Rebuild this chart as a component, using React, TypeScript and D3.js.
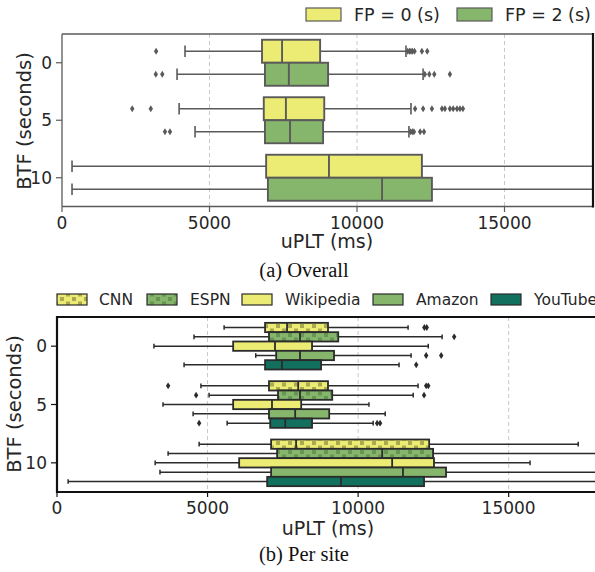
import React from "react";
import * as d3 from "d3";

// ---------- DATA ----------
const btfCategories = ["0", "5", "10"];
const xTicks = [0, 5000, 10000, 15000];

// Top chart: FP series
const fpSeries = ["FP = 0 (s)", "FP = 2 (s)"];
// [whiskerLow, q1, median, q3, whiskerHigh] per BTF category
const fp0Stats = [
  [4170, 6780, 7460, 8750, 11660],
  [3970, 6840, 7590, 8890, 11830],
  [340, 6920, 9050, 12200, 20500],
];
const fp2Stats = [
  [3900, 6880, 7690, 9020, 12240],
  [4510, 6880, 7730, 8850, 11760],
  [340, 6980, 10850, 12540, 20500],
];
const fp0Outliers = [
  [3190, 11720, 11780, 11830, 11880, 11950, 12200, 12380],
  [2380, 3010, 11970, 12240, 12540, 12880, 12980, 13150, 13260, 13390, 13490, 13590],
  [],
];
const fp2Outliers = [
  [3180, 3400, 12300, 12450, 12620, 13150],
  [3490, 3660, 11820, 11880, 11930, 12140, 12270],
  [],
];

// Bottom chart: per site
const sites = ["CNN", "ESPN", "Wikipedia", "Amazon", "YouTube"];
const cnnStats = [
  [5550, 6910, 7640, 9000, 11660],
  [4780, 7040, 8010, 9000, 11990],
  [4720, 7110, 7940, 12360, 17310],
];
const espnStats = [
  [4550, 7040, 8070, 9340, 12790],
  [5050, 7340, 8070, 9140, 11830],
  [3690, 7310, 10800, 12490, 20500],
];
const wikiStats = [
  [3220, 5850, 7240, 8470, 12330],
  [3520, 5850, 7140, 8110, 10360],
  [3260, 6050, 11130, 12520, 15710],
];
const amazonStats = [
  [6600, 7280, 8070, 9200, 11760],
  [4520, 7040, 7910, 9040, 10900],
  [3420, 7110, 11490, 12920, 20500],
];
const youtubeStats = [
  [4220, 6910, 7470, 8770, 11360],
  [5650, 7080, 7580, 8470, 10500],
  [370, 6980, 9430, 12190, 20500],
];
const cnnOutliers = [[12200, 12280], [3690, 12260, 12330], []];
const espnOutliers = [[13190], [4620, 12190], []];
const wikiOutliers = [[], [], []];
const amazonOutliers = [[12260, 12760], [], []];
const youtubeOutliers = [[11930], [4720, 10630, 10730], []];

const fpColors = ["#ecec74", "#85b66c"];
const siteColors = ["#ecec74", "#85b66c", "#ecec74", "#85b66c", "#12705f"];
const siteHatch = [true, true, false, false, false];

type Stat = number[];

function BoxGroup(props: {
  x: d3.ScaleLinear<number, number>;
  y0: number;
  h: number;
  stat: Stat;
  outliers: number[];
  fill: string;
  stroke: string;
  lw: number;
  pattern?: string;
  clip: string;
}) {
  const { x, y0, h, stat, outliers, fill, stroke, lw, pattern, clip } = props;
  const [lo, q1, med, q3, hi] = stat;
  const cy = y0 + h / 2;
  const cap = h / 4;
  const dh = 3.4;
  const dw = 2.2;
  return (
    <g clipPath={`url(#${clip})`}>
      <line x1={x(lo)} x2={x(q1)} y1={cy} y2={cy} stroke={stroke} strokeWidth={lw} />
      <line x1={x(q3)} x2={x(hi)} y1={cy} y2={cy} stroke={stroke} strokeWidth={lw} />
      <line x1={x(lo)} x2={x(lo)} y1={cy - cap} y2={cy + cap} stroke={stroke} strokeWidth={lw} />
      <line x1={x(hi)} x2={x(hi)} y1={cy - cap} y2={cy + cap} stroke={stroke} strokeWidth={lw} />
      <rect x={x(q1)} y={y0} width={x(q3) - x(q1)} height={h} fill={fill} stroke="none" />
      {pattern && (
        <rect x={x(q1)} y={y0} width={x(q3) - x(q1)} height={h} fill={`url(#${pattern})`} stroke="none" />
      )}
      <rect x={x(q1)} y={y0} width={x(q3) - x(q1)} height={h} fill="none" stroke={stroke} strokeWidth={lw + 0.3} />
      <line x1={x(med)} x2={x(med)} y1={y0} y2={y0 + h} stroke={stroke} strokeWidth={lw + 0.3} />
      {outliers.map((o, i) => (
        <path
          key={i}
          d={`M${x(o)},${cy - dh} L${x(o) + dw},${cy} L${x(o)},${cy + dh} L${x(o) - dw},${cy} Z`}
          fill={stroke}
        />
      ))}
    </g>
  );
}

export default function App() {
  const W = 595, H = 572;
  const sans = "'DejaVu Sans', sans-serif";
  const serif = "'Liberation Serif', 'Times New Roman', serif";

  // top chart
  const xT = d3.scaleLinear().domain([0, 18000]).range([62, 593]);
  const yT = d3.scaleBand<string>().domain(btfCategories).range([34, 206.5]);
  const innerT = d3
    .scaleBand<string>()
    .domain(fpSeries)
    .range([yT.bandwidth() * 0.1, yT.bandwidth() * 0.9]);
  const topStats = [fp0Stats, fp2Stats];
  const topOut = [fp0Outliers, fp2Outliers];
  const grayT = "#5a5a5a";

  // bottom chart
  const xB = d3.scaleLinear().domain([0, 18000]).range([57, 599]);
  const yB = d3.scaleBand<string>().domain(btfCategories).range([317, 492]);
  const innerB = d3
    .scaleBand<string>()
    .domain(sites)
    .range([yB.bandwidth() * 0.1, yB.bandwidth() * 0.9]);
  const botStats = [cnnStats, espnStats, wikiStats, amazonStats, youtubeStats];
  const botOut = [cnnOutliers, espnOutliers, wikiOutliers, amazonOutliers, youtubeOutliers];
  const darkB = "#2b2b2b";

  const legendB = [
    { px: 57, tx: 99 },
    { px: 147, tx: 190 },
    { px: 242, tx: 285 },
    { px: 373, tx: 416 },
    { px: 491, tx: 534 },
  ];

  return (
    <svg
      width={W}
      height={H}
      style={{ position: "absolute", left: 0, top: 0, background: "#fff" }}
      fontFamily={sans}
    >
      <defs>
        <clipPath id="clipT">
          <rect x={62} y={34} width={531} height={173} />
        </clipPath>
        <clipPath id="clipB">
          <rect x={57} y={317} width={540} height={176} />
        </clipPath>
        <pattern id="hatchY" width="12" height="9" patternUnits="userSpaceOnUse">
          <rect x="0" y="0" width="4" height="4" fill="#8f8f3e" opacity="0.7" />
          <rect x="6" y="4.5" width="4" height="4" fill="#8f8f3e" opacity="0.7" />
        </pattern>
        <pattern id="hatchG" width="12" height="9" patternUnits="userSpaceOnUse">
          <rect x="0" y="0" width="4" height="4" fill="#4f7a3d" opacity="0.55" />
          <rect x="6" y="4.5" width="4" height="4" fill="#4f7a3d" opacity="0.55" />
        </pattern>
      </defs>

      {/* ---------- TOP CHART ---------- */}
      {xTicks.slice(1).map((t) => (
        <line key={t} x1={xT(t)} x2={xT(t)} y1={34} y2={206.5} stroke="#c8c8c8" strokeWidth={1} strokeDasharray="4,3" />
      ))}
      {btfCategories.map((c, ci) =>
        fpSeries.map((s, si) => (
          <BoxGroup
            key={c + s}
            x={xT}
            y0={(yT(c) as number) + (innerT(s) as number)}
            h={innerT.bandwidth()}
            stat={topStats[si][ci]}
            outliers={topOut[si][ci]}
            fill={fpColors[si]}
            stroke={grayT}
            lw={1.6}
            clip="clipT"
          />
        ))
      )}
      <line x1={62} x2={593} y1={34} y2={34} stroke={grayT} strokeWidth={1.3} />
      <line x1={62} x2={593} y1={206.5} y2={206.5} stroke={grayT} strokeWidth={1.3} />
      <line x1={62} x2={62} y1={34} y2={206.5} stroke={grayT} strokeWidth={1.3} />
      <line x1={593} x2={593} y1={33} y2={207.5} stroke="#111" strokeWidth={2.2} />
      {btfCategories.map((c) => {
        const cy = (yT(c) as number) + yT.bandwidth() / 2;
        return (
          <g key={c}>
            <line x1={56} x2={62} y1={cy} y2={cy} stroke={grayT} strokeWidth={1.2} />
            <text x={52} y={cy + 6} textAnchor="end" fontSize={17} fill="#262626">{c}</text>
          </g>
        );
      })}
      {xTicks.map((t) => (
        <g key={t}>
          <line x1={xT(t)} x2={xT(t)} y1={206.5} y2={212} stroke={grayT} strokeWidth={1.2} />
          <text x={xT(t)} y={228.5} textAnchor="middle" fontSize={17} fill="#262626">{t}</text>
        </g>
      ))}
      <text x={327} y={248} textAnchor="middle" fontSize={19} fill="#262626">uPLT (ms)</text>
      <text transform={`translate(31,121) rotate(-90)`} textAnchor="middle" fontSize={19.5} fill="#262626">BTF (seconds)</text>
      {/* top legend */}
      {fpSeries.map((s, i) => {
        const px = [306, 457][i];
        return (
          <g key={s}>
            <rect x={px} y={8} width={35} height={13} fill={fpColors[i]} stroke={grayT} strokeWidth={1.2} />
            <text x={px + 48} y={21} fontSize={17.5} fill="#262626">{s}</text>
          </g>
        );
      })}
      <text x={304} y={277} textAnchor="middle" fontSize={20.5} fontFamily={serif} fill="#111">(a) Overall</text>

      {/* ---------- BOTTOM CHART ---------- */}
      {xTicks.slice(1).map((t) => (
        <line key={t} x1={xB(t)} x2={xB(t)} y1={317} y2={492} stroke="#c8c8c8" strokeWidth={1} strokeDasharray="4,3" />
      ))}
      {btfCategories.map((c, ci) =>
        sites.map((s, si) => (
          <BoxGroup
            key={c + s}
            x={xB}
            y0={(yB(c) as number) + (innerB(s) as number)}
            h={innerB.bandwidth()}
            stat={botStats[si][ci]}
            outliers={botOut[si][ci]}
            fill={siteColors[si]}
            stroke={darkB}
            lw={1.5}
            pattern={siteHatch[si] ? (si === 0 ? "hatchY" : "hatchG") : undefined}
            clip="clipB"
          />
        ))
      )}
      <line x1={57} x2={595} y1={317} y2={317} stroke="#111" strokeWidth={2.2} />
      <line x1={57} x2={595} y1={492} y2={492} stroke="#111" strokeWidth={2.2} />
      <line x1={57} x2={57} y1={316} y2={493} stroke="#111" strokeWidth={2.2} />
      {btfCategories.map((c) => {
        const cy = (yB(c) as number) + yB.bandwidth() / 2;
        return (
          <g key={c}>
            <line x1={51} x2={57} y1={cy} y2={cy} stroke="#111" strokeWidth={1.2} />
            <text x={47} y={cy + 6} textAnchor="end" fontSize={17} fill="#262626">{c}</text>
          </g>
        );
      })}
      {xTicks.map((t) => (
        <g key={t}>
          <line x1={xB(t)} x2={xB(t)} y1={492} y2={497} stroke="#111" strokeWidth={1.2} />
          <text x={xB(t)} y={514} textAnchor="middle" fontSize={17} fill="#262626">{t}</text>
        </g>
      ))}
      <text x={328} y={535} textAnchor="middle" fontSize={19} fill="#262626">uPLT (ms)</text>
      <text transform={`translate(21,404) rotate(-90)`} textAnchor="middle" fontSize={19.5} fill="#262626">BTF (seconds)</text>
      {sites.map((s, i) => (
        <g key={s}>
          <rect x={legendB[i].px} y={294} width={30} height={11} fill={siteColors[i]} />
          {siteHatch[i] && (
            <rect x={legendB[i].px} y={294} width={30} height={11} fill={`url(#${i === 0 ? "hatchY" : "hatchG"})`} />
          )}
          <rect x={legendB[i].px} y={294} width={30} height={11} fill="none" stroke={darkB} strokeWidth={1.2} />
          <text x={legendB[i].tx} y={305} fontSize={15.5} fill="#262626">{s}</text>
        </g>
      ))}
      <text x={304} y={561} textAnchor="middle" fontSize={20.5} fontFamily={serif} fill="#111">(b) Per site</text>
    </svg>
  );
}
